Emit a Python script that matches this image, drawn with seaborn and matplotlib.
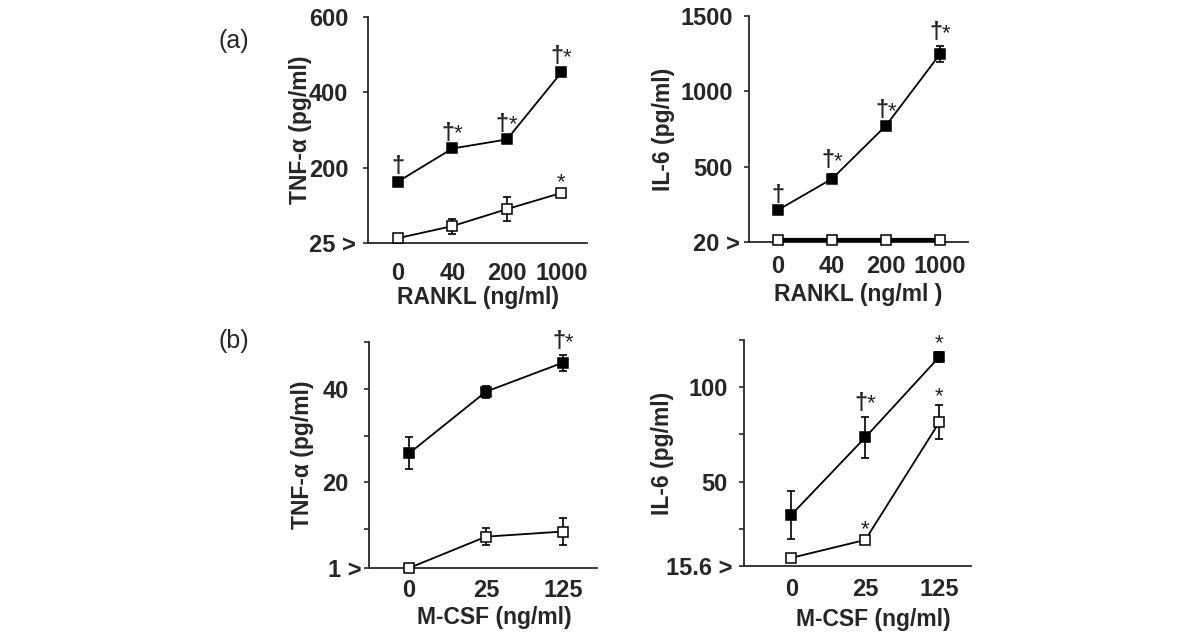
import numpy as np
import matplotlib.pyplot as plt
import seaborn as sns

# x categories (doses)
rankl_doses = ["0", "40", "200", "1000"]
mcsf_doses = ["0", "25", "125"]

# (a) left: TNF-alpha vs RANKL
tnf_rankl_filled = [163, 251, 275, 453]
tnf_rankl_filled_err = [4, 5, 5, 6]
tnf_rankl_open = [13, 45, 90, 133]
tnf_rankl_open_err = [3, 20, 31, 4]
tnf_rankl_filled_sig = ["†", "†*", "†*", "†*"]
tnf_rankl_open_sig = ["", "", "", "*"]

# (a) right: IL-6 vs RANKL
il6_rankl_filled = [213, 420, 773, 1247]
il6_rankl_filled_err = [8, 30, 10, 55]
il6_rankl_open = [10, 10, 10, 10]
il6_rankl_open_err = [0, 0, 0, 0]
il6_rankl_filled_sig = ["†", "†*", "†*", "†*"]
il6_rankl_open_sig = ["", "", "", ""]

# (b) left: TNF-alpha vs M-CSF
tnf_mcsf_filled = [26.2, 39.4, 45.6]
tnf_mcsf_filled_err = [3.4, 1.3, 1.7]
tnf_mcsf_open = [1.7, 8.4, 9.5]
tnf_mcsf_open_err = [0.3, 1.8, 2.9]
tnf_mcsf_filled_sig = ["", "", "†*"]
tnf_mcsf_open_sig = ["", "", ""]

# (b) right: IL-6 vs M-CSF
il6_mcsf_filled = [32.4, 73.4, 116]
il6_mcsf_filled_err = [12.8, 11, 2.7]
il6_mcsf_open = [9.6, 19.1, 81.4]
il6_mcsf_open_err = [0.5, 1, 9]
il6_mcsf_filled_sig = ["", "†*", "*"]
il6_mcsf_open_sig = ["", "*", "*"]

sns.set_style("ticks")
plt.rcParams['font.family'] = ['Liberation Sans', 'DejaVu Sans']
plt.rcParams['font.weight'] = 'bold'

fig = plt.figure(figsize=(12, 6.37), dpi=100)


def mark(ax, x, y, sig):
    """Put dagger / star above a point"""
    if sig == "†":
        ax.annotate("†", (x, y), xytext=(0, 5), textcoords='offset points',
                    ha='center', va='baseline', fontsize=17, fontweight='bold')
    elif sig == "†*":
        ax.annotate("†", (x, y), xytext=(1.5, 5), textcoords='offset points',
                    ha='right', va='baseline', fontsize=17, fontweight='bold')
        ax.annotate("*", (x, y), xytext=(1.2, 5), textcoords='offset points',
                    ha='left', va='baseline', fontsize=16, fontweight='normal')
    elif sig == "*":
        ax.annotate("*", (x, y), xytext=(0, 2), textcoords='offset points',
                    ha='center', va='baseline', fontsize=16, fontweight='normal')


def draw_series(ax, vals, errs, sig, filled, lw=1.3):
    x = np.arange(len(vals))
    ax.errorbar(x, vals, yerr=errs, fmt='none', ecolor='black',
                elinewidth=1.2, capsize=3, capthick=1.2, zorder=2)
    sns.lineplot(x=x, y=vals, ax=ax, color='black', lw=lw, marker='s',
                 markersize=7, markeredgecolor='black', markeredgewidth=1.1,
                 markerfacecolor='black' if filled else 'white',
                 errorbar=None, zorder=3, clip_on=False)
    for i in range(len(vals)):
        mark(ax, x[i], vals[i] + errs[i], sig[i])


def setup_axis(ax, cats, xlim, ylim, yticks, ylabels, xlabel, ylabel,
               xpad, ylab_x, xlab_pos, ypad, base_pad):
    ax.set_xlim(*xlim)
    ax.set_ylim(*ylim)
    ax.set_xticks(np.arange(len(cats)))
    ax.set_xticklabels(cats)
    ax.set_yticks(yticks)
    ax.set_yticklabels(ylabels)
    ax.tick_params(axis='x', length=0, pad=xpad, labelsize=17)
    ax.tick_params(axis='y', length=3.6, width=1.2, pad=ypad, labelsize=17,
                   direction='out')
    ax.yaxis.get_major_ticks()[0].set_pad(base_pad)
    for lab in ax.get_xticklabels() + ax.get_yticklabels():
        lab.set_fontweight('bold')
    sns.despine(ax=ax)
    for sp in ['left', 'bottom']:
        ax.spines[sp].set_linewidth(1.3)
    ax.set_xlabel(xlabel, fontsize=16.5, fontweight='bold')
    ax.set_ylabel(ylabel, fontsize=16.5, fontweight='bold')
    ax.xaxis.set_label_coords(*xlab_pos)
    ax.yaxis.set_label_coords(ylab_x, 0.5)
    ax.yaxis.label.set_verticalalignment('center')


# (a) left
ax1 = fig.add_axes([0.3067, 0.6185, 0.1825, 0.3548])
draw_series(ax1, tnf_rankl_open, tnf_rankl_open_err, tnf_rankl_open_sig, False)
draw_series(ax1, tnf_rankl_filled, tnf_rankl_filled_err, tnf_rankl_filled_sig, True)
setup_axis(ax1, rankl_doses, (-0.55, 3.47), (0, 600), [0, 200, 400, 600],
           ["25 >", "200", "400", "600"], "RANKL (ng/ml)", "TNF-α (pg/ml)",
           xpad=13.5, ylab_x=-0.31, xlab_pos=(0.5, -0.19), ypad=10.5,
           base_pad=5)

# (a) right
ax2 = fig.add_axes([0.6242, 0.6201, 0.1825, 0.3548])
draw_series(ax2, il6_rankl_open, il6_rankl_open_err, il6_rankl_open_sig, False,
            lw=3)
draw_series(ax2, il6_rankl_filled, il6_rankl_filled_err, il6_rankl_filled_sig, True)
setup_axis(ax2, rankl_doses, (-0.54, 3.52), (0, 1500), [0, 500, 1000, 1500],
           ["20 >", "500", "1000", "1500"], "RANKL (ng/ml )", "IL-6 (pg/ml)",
           xpad=9.5, ylab_x=-0.39, xlab_pos=(0.5, -0.18), ypad=8, base_pad=3)

# (b) left
ax3 = fig.add_axes([0.3075, 0.1083, 0.19, 0.3548])
draw_series(ax3, tnf_mcsf_open, tnf_mcsf_open_err, tnf_mcsf_open_sig, False)
draw_series(ax3, tnf_mcsf_filled, tnf_mcsf_filled_err, tnf_mcsf_filled_sig, True)
setup_axis(ax3, mcsf_doses, (-0.52, 2.44), (1.7, 50), [1.7, 10, 20, 30, 40, 50],
           ["1 >", "", "20", "", "40", ""], "M-CSF (ng/ml)", "TNF-α (pg/ml)",
           xpad=8, ylab_x=-0.29, xlab_pos=(0.548, -0.168), ypad=11,
           base_pad=1.5)

# (b) right
ax4 = fig.add_axes([0.62, 0.1115, 0.1892, 0.3548])
draw_series(ax4, il6_mcsf_open, il6_mcsf_open_err, il6_mcsf_open_sig, False)
draw_series(ax4, il6_mcsf_filled, il6_mcsf_filled_err, il6_mcsf_filled_sig, True)
setup_axis(ax4, mcsf_doses, (-0.64, 2.43), (5.3, 125), [5.3, 25, 50, 75, 100, 125],
           ["15.6 >", "", "50", "", "100", ""], "M-CSF (ng/ml)", "IL-6 (pg/ml)",
           xpad=9, ylab_x=-0.357, xlab_pos=(0.568, -0.186), ypad=8,
           base_pad=5)

fig.text(218 / 1200, 1 - 41 / 637, "(a)", fontsize=18, fontweight='normal',
         ha='left', va='center')
fig.text(218 / 1200, 1 - 341 / 637, "(b)", fontsize=18, fontweight='normal',
         ha='left', va='center')

fig.savefig("out.png", dpi=100)
